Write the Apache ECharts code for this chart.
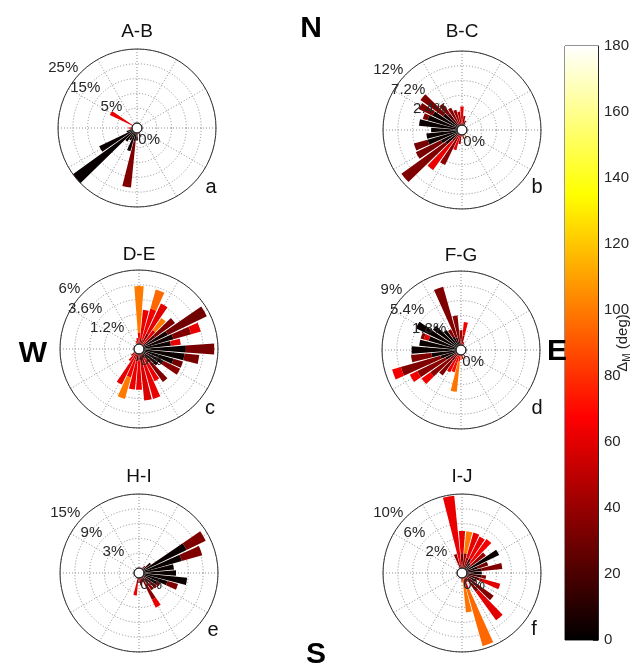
<!DOCTYPE html>
<html><head><meta charset="utf-8">
<script src="https://cdn.jsdelivr.net/npm/echarts@6/dist/echarts.min.js"></script>
<style>html,body{margin:0;padding:0;background:#fff}#c{width:636px;height:668px}</style>
</head><body><div id="c"></div>
<script>
// ---------------- data ----------------
const panelTitles = ['A-B', 'B-C', 'D-E', 'F-G', 'H-I', 'I-J'];
const panelLetters = ['a', 'b', 'c', 'd', 'e', 'f'];
const compass = ['N', 'W', 'E', 'S'];
const ringSteps = [5, 2.4, 1.2, 1.8, 3, 2];
const ringLabelsA = ['', '5%', '', '15%', '', '25%'];
const ringLabelsB = ['', '2.4%', '', '7.2%', '', '12%'];
const ringLabelsC = ['', '1.2%', '', '3.6%', '', '6%'];
const ringLabelsD = ['', '1.8%', '', '5.4%', '', '9%'];
const ringLabelsE = ['', '3%', '', '9%', '', '15%'];
const ringLabelsF = ['', '2%', '', '6%', '', '10%'];
const zeroLabel = '0%';
const bearings = Array.from({length: 36}, (_, i) => String(i * 10));
const colorbarName = 'Δ';
const colorbarSub = 'M';
const colorbarUnit = '(deg)';
// segments: [bearing (deg), length (%), Delta_M (deg)], stacked inner -> outer per bearing
const segA = [
  [230, 25, 2], [240, 12.5, 3], [220, 4, 4], [250, 2, 4], [200, 6.5, 3],
  [190, 3, 6], [190, 15.5, 34], [180, 2.5, 10], [210, 3, 5], [160, 1.5, 20],
  [300, 8.5, 62], [270, 1.2, 70], [260, 0.8, 40]
];
const segB = [
  [230, 2.5, 5], [230, 8.8, 34], [220, 1.5, 34], [220, 5.7, 62], [210, 5.5, 36],
  [200, 2.6, 62], [190, 1.5, 40], [240, 3, 5], [240, 4.5, 32], [250, 5, 3], [250, 2.3, 32],
  [260, 5, 3], [270, 4.2, 3], [280, 6.2, 3], [290, 5, 3], [290, 0.8, 34],
  [300, 4.5, 4], [300, 2.5, 34], [310, 3, 5], [310, 4.5, 34], [320, 2.5, 20], [320, 2, 36],
  [330, 3.2, 36], [340, 2.6, 40], [350, 2.2, 45], [0, 3, 62], [10, 1.5, 40],
  [20, 0.8, 30], [150, 0.6, 100], [170, 0.6, 30]
];
const segC = [
  [0, 0.3, 30], [0, 0.6, 62], [0, 3.8, 100],
  [10, 0.5, 40], [10, 2.3, 62],
  [20, 0.4, 40], [20, 2.6, 64], [20, 1.6, 95],
  [30, 1.0, 35], [30, 2.7, 60],
  [40, 1.5, 60], [40, 1.2, 100],
  [50, 1.2, 20], [50, 2.0, 34],
  [60, 2.2, 5], [60, 3.5, 30],
  [70, 2.5, 5], [70, 1.5, 34], [70, 0.8, 62],
  [80, 2.2, 3], [80, 0.8, 62],
  [90, 3.4, 3], [90, 2.3, 32],
  [100, 3.3, 3], [100, 1.2, 32],
  [110, 2.5, 3], [110, 0.8, 30],
  [120, 1.8, 5], [120, 1.5, 36],
  [130, 1.5, 8],
  [140, 1.0, 20], [140, 1.9, 34],
  [150, 0.5, 20], [150, 2.0, 62],
  [160, 0.8, 40], [160, 3.0, 62],
  [170, 0.5, 30], [170, 3.3, 58],
  [180, 0.5, 30], [180, 2.4, 62],
  [190, 0.6, 20], [190, 2.3, 62],
  [200, 0.5, 50], [200, 1.5, 66], [200, 1.8, 100],
  [210, 0.4, 40], [210, 2.4, 60],
  [220, 0.8, 62], [230, 0.4, 40], [350, 0.5, 60], [340, 0.3, 70]
];
const segD = [
  [340, 1.0, 10], [340, 6.4, 34], [350, 0.5, 10], [350, 3.1, 36], [0, 1.8, 40],
  [10, 1.2, 40], [10, 1.6, 64], [20, 0.4, 50], [330, 1.2, 5], [330, 1.0, 34],
  [320, 2.4, 3], [310, 3.6, 3], [300, 5.5, 3],
  [290, 3.5, 3], [290, 0.6, 60], [290, 0.4, 34], [280, 4.5, 3], [270, 5.4, 3],
  [260, 3.0, 3], [260, 2.5, 34],
  [250, 2.0, 5], [250, 5.0, 34], [250, 1.1, 64],
  [240, 1.5, 8], [240, 3.8, 36], [240, 1.0, 64],
  [230, 1.0, 34], [230, 3.0, 36], [230, 1.3, 64],
  [220, 1.0, 20], [220, 2.2, 34], [210, 2.4, 62], [200, 1.0, 60], [200, 1.2, 70],
  [190, 0.8, 70], [190, 3.7, 98], [180, 0.6, 90], [170, 0.5, 50], [150, 0.3, 40]
];
const segE = [
  [60, 9.7, 3], [60, 4.3, 34], [70, 8, 3], [70, 4.3, 34], [80, 6.1, 3], [90, 6.5, 3],
  [100, 8.8, 3], [110, 5.0, 3], [110, 2.2, 34], [120, 3.0, 5], [120, 0.8, 34],
  [130, 2.0, 20], [130, 1.5, 34], [140, 1.5, 20], [140, 1.8, 38],
  [150, 1.5, 30], [150, 3.5, 36], [150, 1.8, 62], [160, 1.0, 34], [170, 1.5, 34],
  [180, 1.0, 40], [190, 1.2, 40], [190, 2.4, 62], [50, 2.0, 10], [40, 0.8, 40]
];
const segF = [
  [350, 0.5, 40], [350, 9.3, 62], [340, 2.0, 40],
  [0, 2.0, 34], [0, 3.0, 62], [10, 2.0, 40], [10, 3.0, 100], [20, 1.5, 40], [20, 3.5, 62],
  [30, 1.5, 20], [30, 3.3, 62], [40, 1.0, 10], [40, 4.0, 65], [50, 0.8, 10], [50, 2.5, 40],
  [60, 4.9, 3], [70, 1.5, 5], [70, 1.5, 30], [80, 2.0, 10], [80, 2.8, 34], [90, 2.0, 5],
  [100, 2.0, 15], [100, 0.6, 30], [110, 1.8, 20], [110, 2.9, 60], [120, 1.5, 10],
  [130, 2.0, 30], [130, 2.6, 34], [140, 2.5, 34], [140, 4.7, 60], [150, 0.7, 40],
  [160, 1.5, 50], [160, 8.1, 95], [170, 0.7, 90], [170, 4.0, 98], [180, 0.5, 40]
];
const colorbarMin = 0, colorbarMax = 180, colorbarStep = 20;

// ---------------- layout / style ----------------
const FONT = '"Liberation Sans", Arial, sans-serif';
const segs = [segA, segB, segC, segD, segE, segF];
const ringLabels = [ringLabelsA, ringLabelsB, ringLabelsC, ringLabelsD, ringLabelsE, ringLabelsF];
const centers = [[137, 128], [462, 130], [139, 349], [461, 350], [139, 573], [462, 573]];
const titleY = [32, 32, 255, 256, 477, 477];
const HOLE = 5, R = 79;
const hotColors = ['#000000', '#550000', '#aa0000', '#ff0000', '#ff5500', '#ffaa00', '#ffff00', '#ffff80', '#ffffff'];

const polar = [], angleAxis = [], radiusAxis = [], series = [], barSeriesIdx = [];
const hidden = {axisLine: {show: false}, axisTick: {show: false}, axisLabel: {show: false}, splitLine: {show: false}};

segs.forEach((seg, p) => {
  const c = centers[p];
  const step = ringSteps[p];
  const base = polar.length;
  // 0: grid polar (under the bars)
  polar.push({center: c, radius: [HOLE, R]});
  angleAxis.push({polarIndex: base, type: 'value', min: 0, max: 360, interval: 30, startAngle: 90, clockwise: true, z: 0,
    axisLine: {show: false}, axisTick: {show: false}, axisLabel: {show: false},
    splitLine: {show: true, lineStyle: {color: '#8f8f8f', width: 1, type: [1, 2]}}});
  radiusAxis.push({polarIndex: base, type: 'value', min: 0, max: 5 * step, interval: step, z: 0,
    axisLine: {show: false}, axisTick: {show: false}, axisLabel: {show: false},
    splitLine: {show: true, lineStyle: {color: '#8f8f8f', width: 1, type: [1, 2]}}});
  // 1: data polar (outer solid circle drawn over bars)
  polar.push({center: c, radius: [HOLE, R]});
  angleAxis.push({polarIndex: base + 1, type: 'category', data: bearings, startAngle: 95, clockwise: true, z: 10,
    axisLine: {show: true, lineStyle: {color: '#333333', width: 1}}, axisTick: {show: false}, axisLabel: {show: false}, splitLine: {show: false}});
  radiusAxis.push(Object.assign({polarIndex: base + 1, type: 'value', min: 0, max: 5 * step}, hidden));
  // 2: ring label polar
  polar.push({center: c, radius: [HOLE, R]});
  angleAxis.push(Object.assign({polarIndex: base + 2, type: 'value', min: 0, max: 360, startAngle: 138}, hidden));
  const labs = ringLabels[p];
  radiusAxis.push({polarIndex: base + 2, type: 'value', min: 0, max: 5 * step, interval: step, z: 11,
    axisLine: {show: false}, axisTick: {show: false}, splitLine: {show: false},
    axisLabel: {show: true, margin: 0, align: 'right', verticalAlign: 'bottom', fontSize: 15, fontFamily: FONT, color: '#262626',
      formatter: (v, i) => labs[i] || ''}});
  // 3: hole polar
  polar.push({center: c, radius: HOLE});
  angleAxis.push({polarIndex: base + 3, type: 'value', min: 0, max: 360, startAngle: -75, z: 11,
    axisLine: {show: true, lineStyle: {color: '#222222', width: 1}}, axisTick: {show: false}, axisLabel: {show: false}, splitLine: {show: false}});
  radiusAxis.push({polarIndex: base + 3, type: 'value', min: 0, max: 1, interval: 1, z: 11,
    axisLine: {show: false}, axisTick: {show: false}, splitLine: {show: false},
    axisLabel: {show: true, margin: 0, align: 'left', verticalAlign: 'top', fontSize: 15, fontFamily: FONT, color: '#262626',
      formatter: (v, i) => (i === 1 ? zeroLabel : '')}});

  // stacked layers
  const layers = [];
  const count = {};
  seg.forEach(([b, len, dm]) => {
    const k = count[b] || 0;
    count[b] = k + 1;
    if (!layers[k]) layers[k] = [];
    layers[k].push([len, bearings.indexOf(String(b)), dm]);
  });
  layers.forEach((layer) => {
    barSeriesIdx.push(series.length);
    series.push({type: 'bar', coordinateSystem: 'polar', polarIndex: base + 1, stack: 'rose' + p,
      barCategoryGap: '15%', encode: {radius: 0, angle: 1}, z: 2, silent: true, animation: false, data: layer});
  });
});

// colorbar
series.push({type: 'bar', xAxisIndex: 0, yAxisIndex: 0, barWidth: '100%', silent: true, animation: false,
  data: [colorbarMax],
  itemStyle: {color: new echarts.graphic.LinearGradient(0, 1, 0, 0, [
    {offset: 0, color: '#000000'}, {offset: 0.375, color: '#ff0000'}, {offset: 0.75, color: '#ffff00'}, {offset: 1, color: '#ffffff'}])}});

const graphic = [];
panelTitles.forEach((t, i) => {
  graphic.push({type: 'text', x: centers[i][0], y: titleY[i], z: 20,
    style: {text: t, fontSize: 19, fontFamily: FONT, fill: '#111', align: 'center', verticalAlign: 'middle'}});
});
const letterPos = [[211, 187], [537, 187], [210, 408], [537, 408], [213, 630], [534, 629]];
panelLetters.forEach((t, i) => {
  graphic.push({type: 'text', x: letterPos[i][0], y: letterPos[i][1], z: 20,
    style: {text: t, fontSize: 20, fontFamily: FONT, fill: '#111', align: 'center', verticalAlign: 'middle'}});
});
const compassPos = [[311, 29], [33, 354], [557, 352], [316, 655]];
compass.forEach((t, i) => {
  graphic.push({type: 'text', x: compassPos[i][0], y: compassPos[i][1], z: 30,
    style: {text: t, fontSize: 30, fontWeight: 'bold', fontFamily: FONT, fill: '#000', align: 'center', verticalAlign: 'middle'}});
});

const chart = echarts.init(document.getElementById('c'), null, {renderer: 'canvas'});
chart.setOption({
  animation: false,
  backgroundColor: '#ffffff',
  polar, angleAxis, radiusAxis,
  grid: [{left: 565, top: 46, width: 33, height: 594, outerBoundsMode: 'none', containLabel: false,
    show: true, borderColor: '#262626', borderWidth: 1, backgroundColor: 'transparent'}],
  xAxis: [{type: 'category', data: [''], show: false, boundaryGap: true}],
  yAxis: [{type: 'value', min: colorbarMin, max: colorbarMax, interval: colorbarStep, position: 'right',
    axisLine: {show: true, lineStyle: {color: '#262626'}}, axisTick: {show: true, inside: true, length: 5, lineStyle: {color: '#262626'}},
    splitLine: {show: false}, axisLabel: {fontSize: 15, fontFamily: FONT, color: '#262626', margin: 6},
    name: '{d|' + colorbarName + '}{s|' + colorbarSub + '}{d| ' + colorbarUnit + '}', nameLocation: 'middle', nameRotate: 90, nameGap: 16,
    nameMoveOverlap: false,
    nameTextStyle: {rich: {d: {fontSize: 15, fontFamily: FONT, color: '#262626'}, s: {fontSize: 10, fontFamily: FONT, color: '#262626', padding: [8, 0, 0, 0]}}}}],
  visualMap: [{type: 'continuous', show: false, min: colorbarMin, max: colorbarMax, dimension: 2, seriesIndex: barSeriesIdx,
    inRange: {color: hotColors}}],
  graphic,
  series
});
</script>
</body></html>
